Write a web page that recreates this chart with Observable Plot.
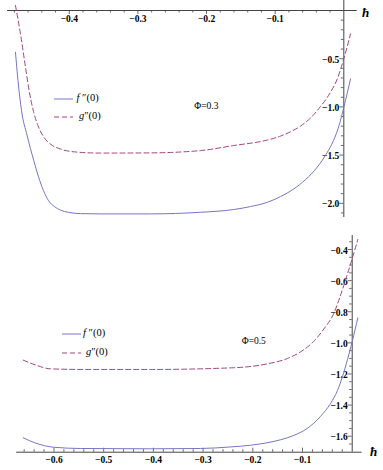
<!DOCTYPE html>
<html><head><meta charset="utf-8">
<script src="https://cdn.jsdelivr.net/npm/d3@7"></script>
<script src="https://cdn.jsdelivr.net/npm/@observablehq/plot@0.6"></script>
<style>
body{margin:0;background:#fff;}
#wrap{position:relative;width:383px;height:470px;overflow:hidden;font-family:"Liberation Serif","DejaVu Serif",serif;background:#fff;}
#wrap svg text{font-family:"Liberation Serif","DejaVu Serif",serif;font-weight:bold;}
.panel{position:absolute;left:0;}
.ann{position:absolute;white-space:nowrap;line-height:1;color:#000;}
.leg{font-size:10.5px;}
.phi{font-size:9.5px;}
.hbar{font-size:13px;font-weight:bold;font-style:italic;}
</style></head><body><div id="wrap"></div>
<script>
// ---------- Panel 1: Φ = 0.3 ----------
const topF_h = [-0.4784,-0.4747,-0.4696,-0.4616,-0.4517,-0.4449,-0.4376,-0.4303,-0.4216,-0.4128,-0.4011,-0.3836,-0.3545,-0.2818,-0.2088,-0.1607,-0.1360,-0.1116,-0.0922,-0.0729,-0.0558,-0.0388,-0.0252,-0.0150,-0.0070,0,0.0098];
const topF_v = [-0.433,-0.727,-1.038,-1.292,-1.557,-1.723,-1.868,-1.972,-2.034,-2.071,-2.094,-2.107,-2.110,-2.110,-2.093,-2.065,-2.034,-1.990,-1.930,-1.851,-1.754,-1.626,-1.484,-1.349,-1.194,-1.004,-0.709];
const topG_h = [-0.4784,-0.4711,-0.4638,-0.4580,-0.4521,-0.4456,-0.4371,-0.4274,-0.4128,-0.3885,-0.3545,-0.2818,-0.2088,-0.1607,-0.1116,-0.0922,-0.0777,-0.0631,-0.0486,-0.0340,-0.0194,-0.0096,0,0.0098];
const topG_v = [0.052,-0.242,-0.588,-0.851,-1.048,-1.194,-1.313,-1.386,-1.437,-1.469,-1.479,-1.477,-1.453,-1.401,-1.344,-1.303,-1.258,-1.199,-1.116,-0.996,-0.848,-0.711,-0.501,-0.242];
const topXTicks = [-0.4,-0.3,-0.2,-0.1];
const topYTicks = [-2.0,-1.5,-1.0,-0.5];
const topXDomain = [-0.49, 0.0195];
const topYDomain = [-2.1473, 0.1038];

// ---------- Panel 2: Φ = 0.5 ----------
const botF_h = [-0.6620,-0.6372,-0.6004,-0.5467,-0.4058,-0.3052,-0.2449,-0.2046,-0.1744,-0.1443,-0.1175,-0.0905,-0.0638,-0.0437,-0.0296,-0.0195,-0.0095,0,0.0113];
const botF_v = [-1.610,-1.644,-1.671,-1.679,-1.681,-1.679,-1.669,-1.658,-1.644,-1.623,-1.595,-1.550,-1.473,-1.390,-1.306,-1.216,-1.107,-0.991,-0.839];
const botG_h = [-0.6620,-0.6372,-0.6070,-0.5406,-0.4058,-0.2388,-0.1710,-0.1300,-0.1040,-0.0773,-0.0571,-0.0370,-0.0250,-0.0115,0,0.0113];
const botG_v = [-1.111,-1.142,-1.167,-1.171,-1.171,-1.160,-1.135,-1.100,-1.058,-0.990,-0.911,-0.810,-0.708,-0.577,-0.458,-0.336];
const botXTicks = [-0.6,-0.5,-0.4,-0.3,-0.2,-0.1];
const botYTicks = [-1.6,-1.4,-1.2,-1.0,-0.8,-0.6,-0.4];
const botXDomain = [-0.675, 0.0199];
const botYDomain = [-1.7028, -0.31];

const fColor = "#7676c6";
const gColor = "#a3457e";
const axisColor = "#444";
const minus = v => d3.format(".1f")(v).replace("-", "\u2212");

function pts(h, v){ return h.map((x,i)=>({h:x, v:v[i]})); }
function minors(lo, hi, step, majors){
  return d3.range(Math.round(lo/step), Math.round(hi/step)+1).map(k=>+(k*step).toFixed(4))
    .filter(t => t !== 0 && !majors.some(m => Math.abs(m - t) < 1e-6));
}
const tickStyle = {stroke: axisColor, strokeWidth: 0.8};
const labelStyle = {fontWeight: "bold", fontSize: 9.5, fill: "#000"};

// top panel
const topChart = Plot.plot({
  width: 383, height: 217,
  marginTop: 0, marginBottom: 0, marginLeft: 7, marginRight: 26.3,
  x: {domain: topXDomain, axis: null},
  y: {domain: topYDomain, axis: null},
  style: {fontFamily: "Liberation Serif", background: "transparent", overflow: "visible"},
  marks: [
    Plot.ruleY([0], {stroke: axisColor, strokeWidth: 1}),
    Plot.ruleX([0], {stroke: axisColor, strokeWidth: 1}),
    Plot.ruleX(topXTicks, {x: d=>d, y1: ()=>0, y2: ()=>0, insetTop: 0, insetBottom: -4, ...tickStyle}),
    Plot.ruleX(minors(-0.48, 0.0, 0.02, topXTicks), {x: d=>d, y1: ()=>0, y2: ()=>0, insetTop: 0, insetBottom: -2.5, ...tickStyle}),
    Plot.ruleY(topYTicks, {y: d=>d, x1: ()=>0, x2: ()=>0, insetLeft: -4, insetRight: 0, ...tickStyle}),
    Plot.ruleY(minors(-2.1, -0.1, 0.1, topYTicks), {y: d=>d, x1: ()=>0, x2: ()=>0, insetLeft: -2.5, insetRight: 0, ...tickStyle}),
    Plot.text(topXTicks, {x: d=>d, y: ()=>0, dy: 8.5, text: minus, ...labelStyle}),
    Plot.text(topYTicks, {x: ()=>0, y: d=>d, dx: -4.5, dy: 1, textAnchor: "end", text: minus, ...labelStyle}),
    Plot.line(pts(topF_h, topF_v), {x: "h", y: "v", stroke: fColor, strokeWidth: 1, curve: "monotone-x"}),
    Plot.line(pts(topG_h, topG_v), {x: "h", y: "v", stroke: gColor, strokeWidth: 1, strokeDasharray: "5,3", curve: "monotone-x"})
  ]
});

// bottom panel
const botChart = Plot.plot({
  width: 383, height: 240,
  marginTop: 5, marginBottom: 18.3, marginLeft: 16.2, marginRight: 21.4,
  x: {domain: botXDomain, axis: null},
  y: {domain: botYDomain, axis: null},
  style: {fontFamily: "Liberation Serif", background: "transparent", overflow: "visible"},
  marks: [
    Plot.ruleY([botYDomain[0]], {stroke: axisColor, strokeWidth: 1}),
    Plot.ruleX([0], {stroke: axisColor, strokeWidth: 1}),
    Plot.ruleX(botXTicks, {x: d=>d, y1: ()=>botYDomain[0], y2: ()=>botYDomain[0], insetTop: -4, insetBottom: 0, ...tickStyle}),
    Plot.ruleX(minors(-0.66, 0.0, 0.02, botXTicks), {x: d=>d, y1: ()=>botYDomain[0], y2: ()=>botYDomain[0], insetTop: -2.5, insetBottom: 0, ...tickStyle}),
    Plot.ruleY(botYTicks, {y: d=>d, x1: ()=>0, x2: ()=>0, insetLeft: -4, insetRight: 0, ...tickStyle}),
    Plot.ruleY(minors(-1.65, -0.35, 0.05, botYTicks), {y: d=>d, x1: ()=>0, x2: ()=>0, insetLeft: -2.5, insetRight: 0, ...tickStyle}),
    Plot.text(botXTicks, {x: d=>d, y: ()=>botYDomain[0], dy: 7.5, text: minus, ...labelStyle}),
    Plot.text(botYTicks, {x: ()=>0, y: d=>d, dx: -4.5, dy: 1, textAnchor: "end", text: minus, ...labelStyle}),
    Plot.line(pts(botF_h, botF_v), {x: "h", y: "v", stroke: fColor, strokeWidth: 1, curve: "monotone-x"}),
    Plot.line(pts(botG_h, botG_v), {x: "h", y: "v", stroke: gColor, strokeWidth: 1, strokeDasharray: "5,3", curve: "monotone-x"})
  ]
});

const wrap = document.getElementById("wrap");
topChart.classList.add("panel"); topChart.style.top = "0px";
botChart.classList.add("panel"); botChart.style.top = "230px";
wrap.appendChild(topChart); wrap.appendChild(botChart);

// legends, annotations, axis names
function legendSwatch(x, y, color, dashed){
  const s = document.createElementNS("http://www.w3.org/2000/svg","svg");
  s.setAttribute("width", 19); s.setAttribute("height", 4);
  s.style.position = "absolute"; s.style.left = x + "px"; s.style.top = (y - 2) + "px";
  const l = document.createElementNS("http://www.w3.org/2000/svg","line");
  l.setAttribute("x1",0); l.setAttribute("x2",19); l.setAttribute("y1",2); l.setAttribute("y2",2);
  l.setAttribute("stroke", color); l.setAttribute("stroke-width", 1);
  if (dashed) l.setAttribute("stroke-dasharray", "5,3");
  s.appendChild(l); wrap.appendChild(s);
}
function label(html, x, cy, cls){
  const d = document.createElement("div");
  d.className = "ann " + cls; d.innerHTML = html;
  d.style.left = x + "px"; d.style.top = cy + "px";
  d.style.transform = "translateY(-55%)";
  wrap.appendChild(d);
}
const legF = "<i>f</i> \u2033(0)";
const legG = "<i>g</i>\u2033(0)";
legendSwatch(54, 98.7, fColor, false); label(legF, 76.5, 98.7, "leg");
legendSwatch(54, 116.7, gColor, true); label(legG, 79, 116.7, "leg");
legendSwatch(62, 334.3, fColor, false); label(legF, 83, 334.3, "leg");
legendSwatch(62, 352.7, gColor, true); label(legG, 86, 352.7, "leg");
label("\u03A6=0.3", 194.3, 107, "phi");
label("\u03A6=0.5", 241.7, 342.3, "phi");
label("\u0127", 362, 12.5, "hbar");
label("\u0127", 370, 451.5, "hbar");
</script></body></html>
